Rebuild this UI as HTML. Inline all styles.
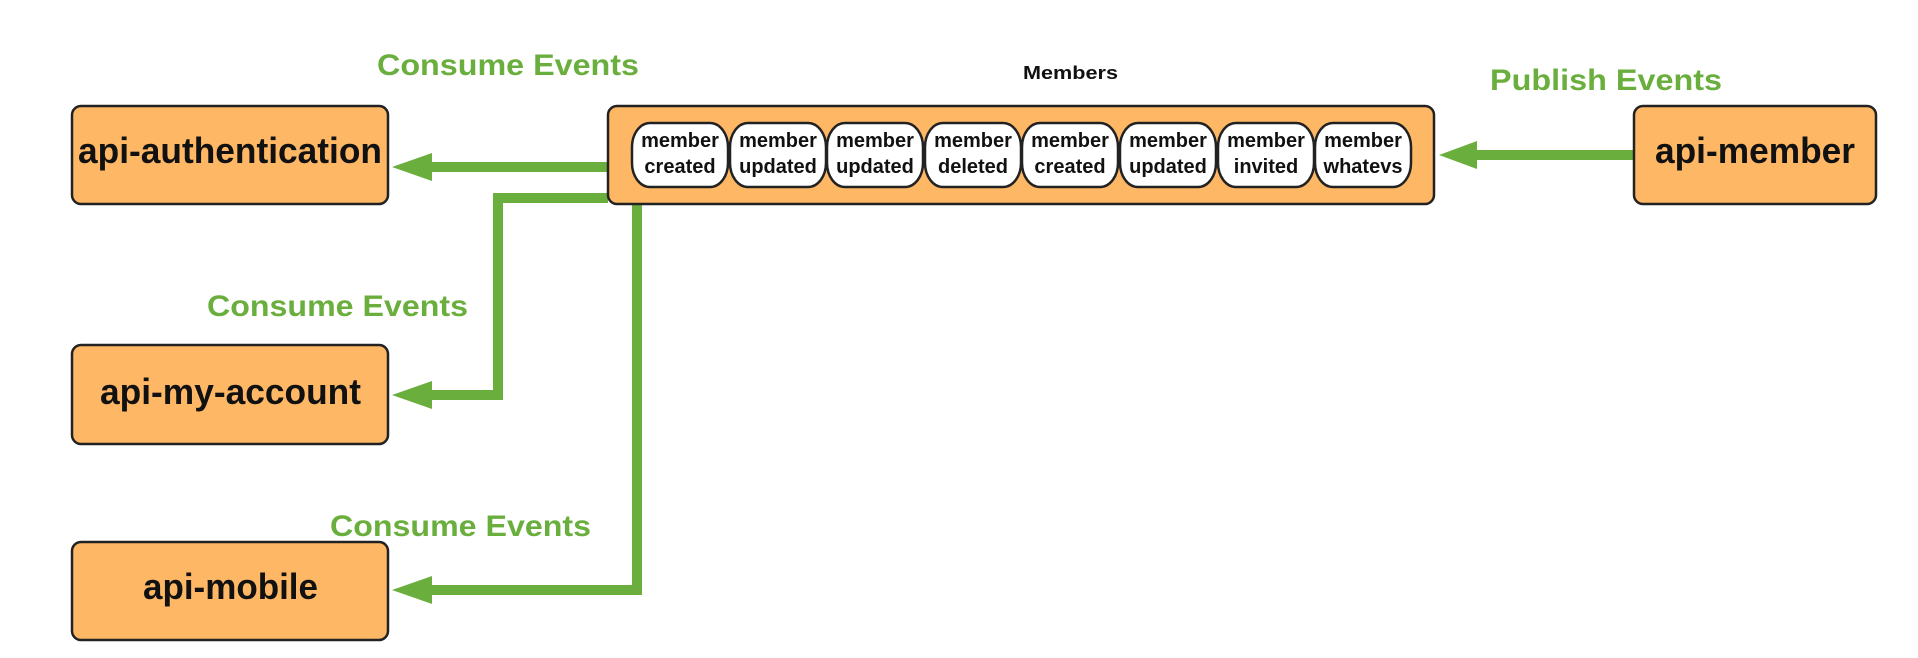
<!DOCTYPE html>
<html><head><meta charset="utf-8"><style>html,body{margin:0;padding:0;background:#fff;}svg{display:block}</style></head>
<body>
<svg width="1918" height="658" viewBox="0 0 1918 658" xmlns="http://www.w3.org/2000/svg" font-family="Liberation Sans, Arial, sans-serif" font-weight="bold">
<g fill="#6aaf3d" font-size="30">
<text x="377" y="75" textLength="262" lengthAdjust="spacingAndGlyphs">Consume Events</text>
<text x="207" y="316" textLength="261" lengthAdjust="spacingAndGlyphs">Consume Events</text>
<text x="330" y="536" textLength="261" lengthAdjust="spacingAndGlyphs">Consume Events</text>
<text x="1490" y="90" textLength="232" lengthAdjust="spacingAndGlyphs">Publish Events</text>
</g>
<text x="1023" y="79" font-size="18" textLength="95" lengthAdjust="spacingAndGlyphs" fill="#111">Members</text>
<!-- connectors -->
<g stroke="#6aaf3d" stroke-width="10" fill="none">
<line x1="608" y1="167" x2="428" y2="167"/>
<polyline points="608,198 498,198 498,395 428,395"/>
<polyline points="637,203 637,590 428,590"/>
<line x1="1633" y1="155" x2="1474" y2="155"/>
</g>
<g fill="#6aaf3d">
<polygon points="392,167 432,153 432,181"/>
<polygon points="392,395 432,381 432,409"/>
<polygon points="392,590 432,576 432,604"/>
<polygon points="1439,155 1477,141 1477,169"/>
</g>
<!-- boxes -->
<g fill="#fdb765" stroke="#222" stroke-width="2.5">
<rect x="72" y="106" width="316" height="98" rx="9"/>
<rect x="72" y="345" width="316" height="99" rx="9"/>
<rect x="72" y="542" width="316" height="98" rx="9"/>
<rect x="1634" y="106" width="242" height="98" rx="9"/>
<rect x="608" y="106" width="826" height="98" rx="9"/>
</g>
<g fill="#111" font-size="36">
<text x="78" y="163" textLength="304" lengthAdjust="spacingAndGlyphs">api-authentication</text>
<text x="100" y="404" textLength="261" lengthAdjust="spacingAndGlyphs">api-my-account</text>
<text x="143" y="599" textLength="175" lengthAdjust="spacingAndGlyphs">api-mobile</text>
<text x="1655" y="163" textLength="200" lengthAdjust="spacingAndGlyphs">api-member</text>
</g>
<!-- pills -->
<g fill="#fff" stroke="#222" stroke-width="2.5">
<rect x="632" y="123" width="96" height="64" rx="18" ry="24"/>
<rect x="730" y="123" width="96" height="64" rx="18" ry="24"/>
<rect x="827" y="123" width="96" height="64" rx="18" ry="24"/>
<rect x="925" y="123" width="96" height="64" rx="18" ry="24"/>
<rect x="1022" y="123" width="96" height="64" rx="18" ry="24"/>
<rect x="1120" y="123" width="96" height="64" rx="18" ry="24"/>
<rect x="1218" y="123" width="96" height="64" rx="18" ry="24"/>
<rect x="1315" y="123" width="96" height="64" rx="18" ry="24"/>
</g>
<g fill="#111" font-size="20" text-anchor="middle">
<text x="680" y="147">member</text><text x="680" y="173">created</text>
<text x="778" y="147">member</text><text x="778" y="173">updated</text>
<text x="875" y="147">member</text><text x="875" y="173">updated</text>
<text x="973" y="147">member</text><text x="973" y="173">deleted</text>
<text x="1070" y="147">member</text><text x="1070" y="173">created</text>
<text x="1168" y="147">member</text><text x="1168" y="173">updated</text>
<text x="1266" y="147">member</text><text x="1266" y="173">invited</text>
<text x="1363" y="147">member</text><text x="1363" y="173">whatevs</text>
</g>
</svg>
</body></html>
